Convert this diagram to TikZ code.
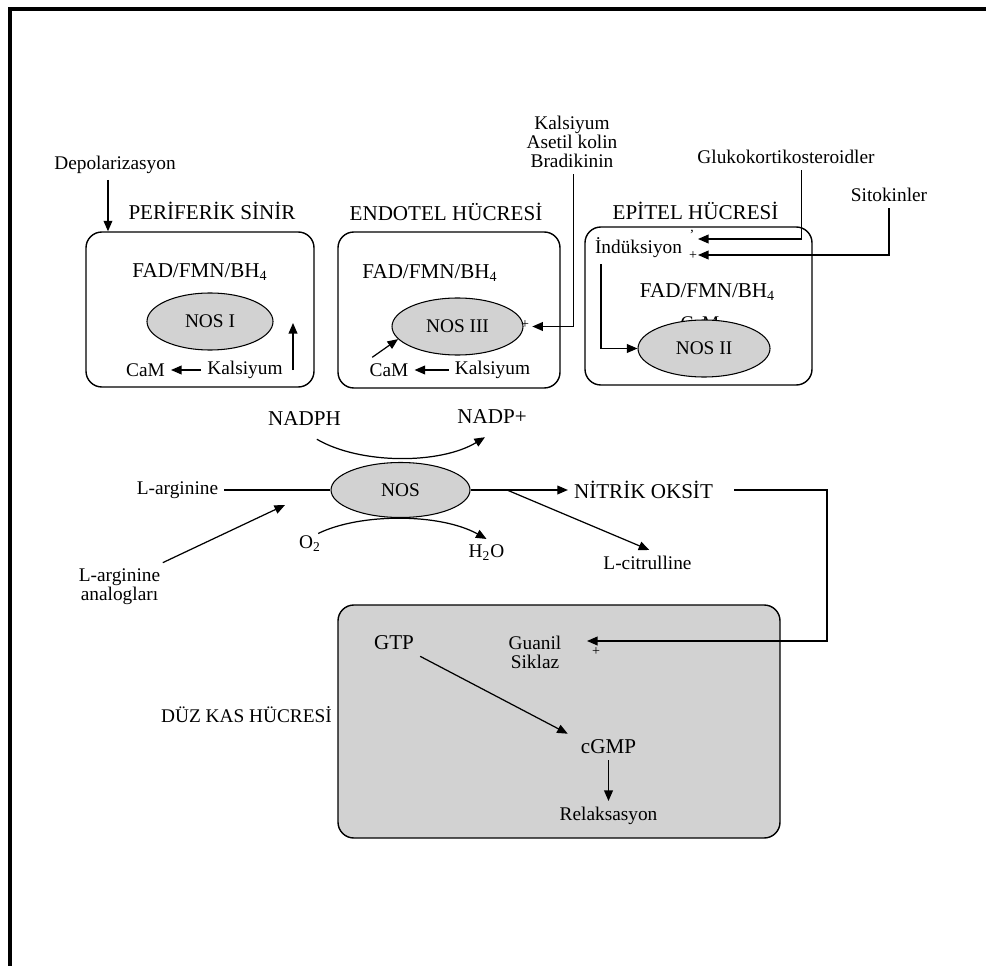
\documentclass[tikz,border=0pt]{standalone}
\usepackage{fontspec}
\setmainfont{Liberation Serif}
\usetikzlibrary{shapes, arrows.meta, positioning, calc}

\begin{document}
\begin{tikzpicture}[
        font=\fontsize{11}{11}\selectfont,
        captxt/.style={font=\fontsize{12}{12}\selectfont},
        cell/.style={draw, rounded corners=9pt, line width=0.8pt},
        enz/.style={draw, ellipse, fill=gray!35, line width=0.6pt, inner sep=0pt},
        arr/.style={-{Triangle[length=6pt, width=5pt]}, line width=0.7pt},
        sgn/.style={font=\fontsize{8}{8}\selectfont, inner sep=0pt}
    ]
        \useasboundingbox (0,0) rectangle (19.72,-19.32);
        \draw[line width=2pt] (0.2,-19.32) -- (0.2,-0.18) -- (19.72,-0.18);

        \node[cell, minimum width=4.56cm, minimum height=3.1cm] (p1) at (4.0,-6.19) {};
        \node[cell, minimum width=4.44cm, minimum height=3.12cm] (p2) at (8.98,-6.2) {};
        \node[cell, minimum width=4.54cm, minimum height=3.16cm] (p3) at (13.97,-6.12) {};
        \node[cell, fill=gray!35, minimum width=8.84cm, minimum height=4.66cm] (dk) at (11.18,-14.43) {};

        \node[captxt] (t1) at (4.24,-4.22) {PERİFERİK SİNİR};
        \node[captxt] (t2) at (8.92,-4.24) {ENDOTEL HÜCRESİ};
        \node[captxt] (t3) at (13.91,-4.22) {EPİTEL HÜCRESİ};
        \node (t4) at (4.93,-14.3) {DÜZ KAS HÜCRESİ};

        \node (dep) at (2.3,-3.3) {Depolarizasyon};
        \draw[arr] ([xshift=-4pt]dep.south) -- ([xshift=-4pt]dep.south |- p1.north);
        \node[captxt] (fad1) at (4.0,-5.44) {FAD/FMN/BH\textsubscript{4}};
        \node[enz, minimum width=2.52cm, minimum height=1.14cm] (nos1) at (4.2,-6.43) {NOS I};
        \node (cam1) at (2.91,-7.4) {CaM};
        \node (kal1) at (4.9,-7.4) {Kalsiyum};
        \draw[arr] (kal1) -- (cam1);
        \coordinate (k1a) at (5.86,-7.4);
        \coordinate (k1b) at (5.86,-6.46);
        \draw[arr] (k1a) -- (k1b);

        \node[captxt] (fad2) at (8.6,-5.46) {FAD/FMN/BH\textsubscript{4}};
        \node[enz, minimum width=2.62cm, minimum height=1.14cm] (nos3) at (9.15,-6.53) {NOS III};
        \node (cam2) at (7.78,-7.4) {CaM};
        \node (kal2) at (9.85,-7.4) {Kalsiyum};
        \draw[arr] (kal2) -- (cam2);
        \draw[arr] ([xshift=5pt]cam2.north west) -- (nos3.192);
        \node[align=center] (kab) at (11.44,-2.84) {Kalsiyum\\Asetil kolin\\Bradikinin};
        \draw[arr, shorten >=5pt] ([xshift=1pt]kab.south) |- (nos3.east);
        \node[sgn] (s1) at (10.5,-6.5) {+};

        \node (glu) at (15.72,-3.14) {Glukokortikosteroidler};
        \node (sit) at (17.78,-3.9) {Sitokinler};
        \node (ind) at (12.77,-4.96) {İndüksiyon};
        \coordinate (g1) at (13.96,-4.78);
        \coordinate (g2) at (13.96,-5.1);
        \draw[arr] ([xshift=9pt]glu.south) |- (g1);
        \draw[arr] (sit.south) |- (g2);
        \node[sgn] (s2) at (13.84,-4.7) {'};
        \node[sgn] (s3) at (13.86,-5.12) {+};
        \node[captxt] (fad3) at (14.15,-5.84) {FAD/FMN/BH\textsubscript{4}};
        \node (cam3) at (14.0,-6.46) {CaM};
        \node[enz, minimum width=2.64cm, minimum height=1.14cm] (nos2) at (14.08,-6.97) {NOS II};
        \draw[arr] ([xshift=7pt]ind.south west) |- (nos2.west);

        \node[captxt] (nadph) at (6.09,-8.38) {NADPH};
        \node[captxt] (nadpp) at (9.84,-8.34) {NADP+};
        \node (o2) at (6.2,-10.88) {O\textsubscript{2}};
        \node (h2o) at (9.73,-11.06) {H\textsubscript{2}O};
        \draw[arr] ([xshift=7pt,yshift=-4pt]nadph.south) .. controls (7.2,-9.29) and (8.8,-9.29) .. ([xshift=-4pt,yshift=-4pt]nadpp.south);
        \draw[arr] ([xshift=-5pt,yshift=-2pt]o2.north east) .. controls (7.2,-10.26) and (8.8,-10.26) .. (h2o.north);
        \node[enz, minimum width=2.78cm, minimum height=1.1cm] (nos) at (8.01,-9.8) {NOS};

        \node (larg) at (3.55,-9.8) {L-arginine};
        \draw[line width=0.7pt] (larg.east) -- (nos.west);
        \node[align=center] (ana) at (2.39,-11.74) {L-arginine\\analogları};
        \coordinate (an1) at (5.7,-10.1);
        \draw[arr] ([xshift=-2pt]ana.north east) -- (an1);

        \node[captxt] (no) at (12.87,-9.8) {NİTRİK OKSİT};
        \node (lcit) at (12.95,-11.26) {L-citrulline};
        \draw[arr] (nos.east) -- (no.west);
        \coordinate (lc1) at (10.14,-9.8);
        \draw[arr] (lc1) -- ([xshift=1pt]lcit.north);

        \node[captxt] (gtp) at (7.88,-12.86) {GTP};
        \node[align=center] (gs) at (10.7,-13.05) {Guanil\\Siklaz};
        \node[captxt] (cgmp) at (12.17,-14.94) {cGMP};
        \node (rel) at (12.17,-16.32) {Relaksasyon};
        \coordinate (nob) at (16.54,-9.8);
        \coordinate (gs1) at (11.74,-12.82);
        \draw[arr] ([xshift=0.3cm]no.east) -- (nob) |- (gs1);
        \node[sgn] (s4) at (11.92,-13.04) {+};
        \draw[arr] (gtp.south east) -- ([xshift=-4pt]cgmp.north west);
        \draw[arr] (cgmp.south) -- (rel.north);
    \end{tikzpicture}
\end{document}
